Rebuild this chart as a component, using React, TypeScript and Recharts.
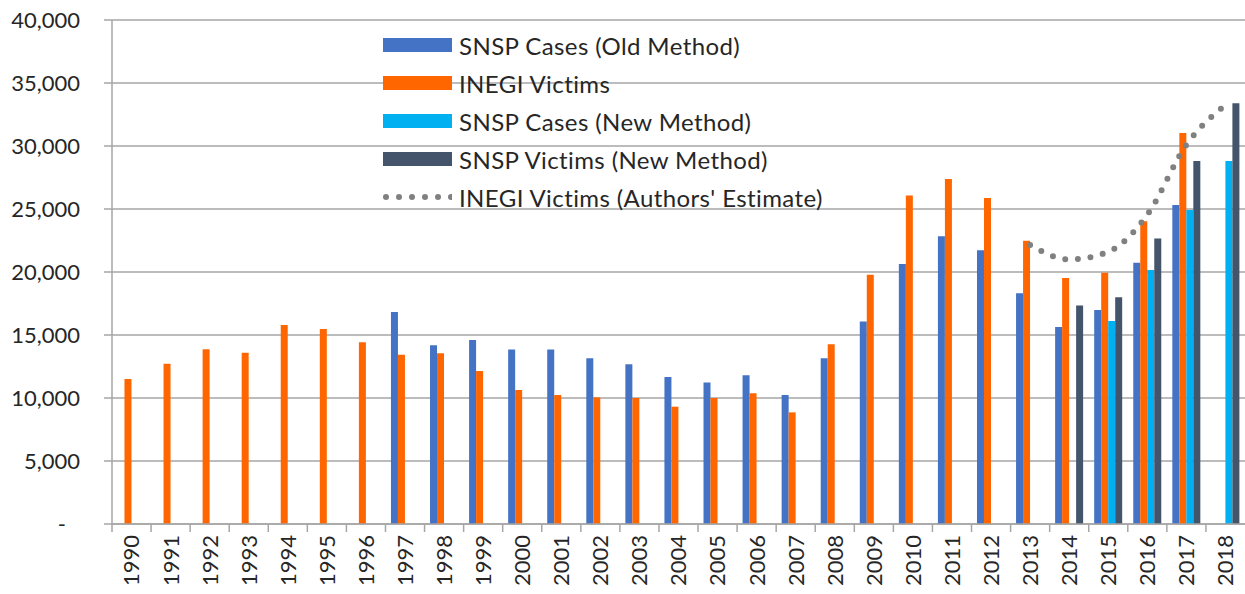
import { ComposedChart, Bar, Line, XAxis, YAxis, CartesianGrid } from 'recharts';

const years = [
  '1990', '1991', '1992', '1993', '1994', '1995', '1996', '1997', '1998', '1999',
  '2000', '2001', '2002', '2003', '2004', '2005', '2006', '2007', '2008', '2009',
  '2010', '2011', '2012', '2013', '2014', '2015', '2016', '2017', '2018',
];

const snspOld = [
  null, null, null, null, null, null, null, 16830, 14180, 14600,
  13840, 13840, 13150, 12670, 11670, 11240, 11800, 10240, 13150, 16080,
  20640, 22830, 21720, 18310, 15630, 16980, 20740, 25320, null,
];

const inegi = [
  11500, 12720, 13860, 13600, 15800, 15480, 14420, 13440, 13550, 12140,
  10630, 10240, 10050, 10000, 9310, 10000, 10370, 8860, 14260, 19780,
  26080, 27380, 25870, 22490, 19520, 19950, 24020, 31030, null,
];

const snspCasesNew = [
  null, null, null, null, null, null, null, null, null, null,
  null, null, null, null, null, null, null, null, null, null,
  null, null, null, null, null, 16110, 20160, 24920, 28810,
];

const snspVictimsNew = [
  null, null, null, null, null, null, null, null, null, null,
  null, null, null, null, null, null, null, null, null, null,
  null, null, null, null, 17350, 17990, 22650, 28810, 33400,
];

const inegiEstimate = [
  null, null, null, null, null, null, null, null, null, null,
  null, null, null, null, null, null, null, null, null, null,
  null, null, null, 22150, 21000, 21600, 24550, 30100, 33250,
];

const yTicks = [0, 5000, 10000, 15000, 20000, 25000, 30000, 35000, 40000];

const data = years.map((year, i) => ({
  year,
  snspOld: snspOld[i],
  inegi: inegi[i],
  snspCasesNew: snspCasesNew[i],
  snspVictimsNew: snspVictimsNew[i],
  inegiEstimate: inegiEstimate[i],
}));

const W = 1245;
const H = 594;
const LEFT = 112;
const BAND = (W - LEFT) / years.length;
const FONT = 'Lato, "Open Sans", sans-serif';
const TEXT = '#262626';
const GRID = '#a6a6a6';

const series = [
  { name: 'SNSP Cases (Old Method)', color: '#4472c4', type: 'bar' },
  { name: 'INEGI Victims', color: '#ff6600', type: 'bar' },
  { name: 'SNSP Cases (New Method)', color: '#00b0f0', type: 'bar' },
  { name: 'SNSP Victims (New Method)', color: '#44546a', type: 'bar' },
  { name: "INEGI Victims (Authors' Estimate)", color: '#808080', type: 'dots' },
];

function XTick(props: any) {
  const { x, y, payload } = props;
  const left = x - BAND / 2;
  return (
    <g>
      <line x1={left} x2={left} y1={y} y2={y + 8} stroke={GRID} strokeWidth={1.5} />
      <text
        x={0}
        y={0}
        transform={`translate(${x},${y + 11}) rotate(-90)`}
        textAnchor="end"
        dy="0.36em"
        fontSize={22}
        fontFamily={FONT}
        fill={TEXT}
      >
        {payload.value}
      </text>
    </g>
  );
}

function YTick(props: any) {
  const { x, y, payload } = props;
  const v = payload.value;
  return (
    <text x={v === 0 ? x - 14 : x} y={y} dy="0.36em" textAnchor="end" fontSize={22} fontFamily={FONT} fill={TEXT}>
      {v === 0 ? '-' : v.toLocaleString('en-US')}
    </text>
  );
}

function LegendBox() {
  return (
    <div
      style={{
        position: 'absolute',
        left: 383,
        top: 26,
        fontFamily: FONT,
        fontSize: 24,
        letterSpacing: 0.4,
        color: TEXT,
        pointerEvents: 'none',
      }}
    >
      {series.map((s) => (
        <div key={s.name} style={{ display: 'flex', alignItems: 'center', height: 38 }}>
          {s.type === 'bar' ? (
            <div style={{ width: 69, height: 14, background: s.color, marginRight: 7, flexShrink: 0 }} />
          ) : (
            <svg width={69} height={14} style={{ marginRight: 7, flexShrink: 0 }}>
              {[0, 1, 2, 3, 4, 5].map((k) => (
                <circle key={k} cx={3 + k * 13} cy={7} r={3} fill={s.color} />
              ))}
            </svg>
          )}
          <span style={{ whiteSpace: 'nowrap' }}>{s.name}</span>
        </div>
      ))}
    </div>
  );
}

export default function App() {
  return (
    <div style={{ position: 'absolute', left: 0, top: 0, width: W, height: H, background: '#fff' }}>
      <ComposedChart
        width={W}
        height={H}
        data={data}
        margin={{ top: 20, right: 0, left: 0, bottom: 0 }}
        barCategoryGap="14%"
        barGap={0}
      >
        <CartesianGrid vertical={false} stroke={GRID} strokeWidth={1.5} />
        <XAxis
          dataKey="year"
          height={70}
          interval={0}
          tick={<XTick />}
          tickLine={false}
          tickSize={0}
          tickMargin={0}
          axisLine={{ stroke: GRID, strokeWidth: 1.5 }}
        />
        <YAxis
          width={LEFT}
          domain={[0, 40000]}
          ticks={yTicks}
          interval={0}
          tick={<YTick />}
          tickLine={{ stroke: GRID, strokeWidth: 1.5 }}
          tickSize={8}
          tickMargin={24}
          axisLine={{ stroke: GRID, strokeWidth: 1.5 }}
        />
        <Bar dataKey="snspOld" name={series[0].name} fill={series[0].color} isAnimationActive={false} />
        <Bar dataKey="inegi" name={series[1].name} fill={series[1].color} isAnimationActive={false} />
        <Bar dataKey="snspCasesNew" name={series[2].name} fill={series[2].color} isAnimationActive={false} />
        <Bar dataKey="snspVictimsNew" name={series[3].name} fill={series[3].color} isAnimationActive={false} />
        <Line
          dataKey="inegiEstimate"
          name={series[4].name}
          type="monotone"
          stroke={series[4].color}
          strokeWidth={6}
          strokeLinecap="round"
          strokeDasharray="0 12.7"
          dot={false}
          activeDot={false}
          isAnimationActive={false}
        />
      </ComposedChart>
      <LegendBox />
    </div>
  );
}
